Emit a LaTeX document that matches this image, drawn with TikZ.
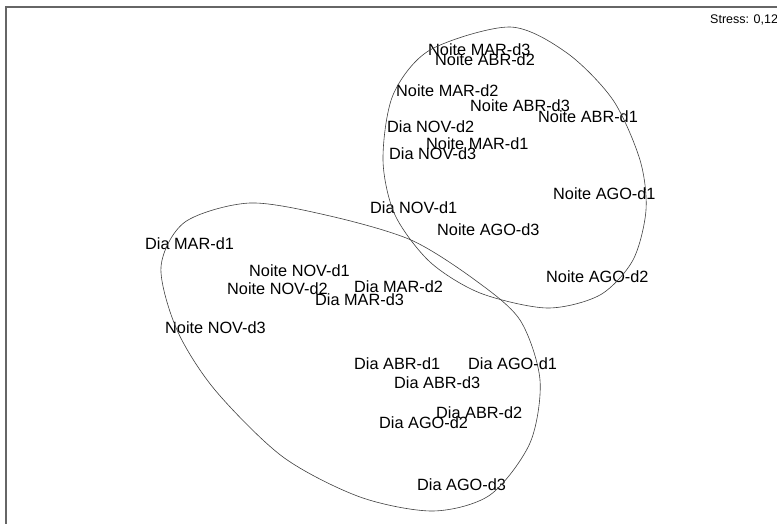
\documentclass[tikz,border=0pt]{standalone}
\usepackage{fontspec}
\setmainfont{Liberation Sans}
\usepackage{tikz}

\begin{document}
\begin{tikzpicture}[x=1pt,y=-1pt,
        lbl/.style = {anchor=west, inner sep=0pt, font=\fontsize{16.3}{19}\selectfont},
        hull/.style = {draw=black!75, line width=0.6pt},
        frame/.style = {draw=black!60, line width=1.6pt},
        ]
        \useasboundingbox (0,0) rectangle (777,524);
        \draw[frame] (6,524) -- (6,7) -- (777,7);
        \node[anchor=west, inner sep=0pt, font=\fontsize{12.5}{14}\selectfont] (stress) at (710,20) {Stress: 0,12};
        % noite
        \node[lbl] (nmar3) at (428,50) {Noite MAR-d3};
        \node[lbl] (nabr2) at (435,60) {Noite ABR-d2};
        \node[lbl] (nmar2) at (396,91) {Noite MAR-d2};
        \node[lbl] (nabr3) at (470,106) {Noite ABR-d3};
        \node[lbl] (nabr1) at (538,117) {Noite ABR-d1};
        \node[lbl] (nmar1) at (426,144) {Noite MAR-d1};
        \node[lbl] (nago1) at (553,194) {Noite AGO-d1};
        \node[lbl] (nago3) at (437,230) {Noite AGO-d3};
        \node[lbl] (nago2) at (546,277) {Noite AGO-d2};
        \node[lbl] (nnov1) at (249,271) {Noite NOV-d1};
        \node[lbl] (nnov2) at (227,289) {Noite NOV-d2};
        \node[lbl] (nnov3) at (165,328) {Noite NOV-d3};
        % dia
        \node[lbl] (dnov2) at (387,127) {Dia NOV-d2};
        \node[lbl] (dnov3) at (389,154) {Dia NOV-d3};
        \node[lbl] (dnov1) at (370,208) {Dia NOV-d1};
        \node[lbl] (dmar1) at (145,244) {Dia MAR-d1};
        \node[lbl] (dmar2) at (354,287) {Dia MAR-d2};
        \node[lbl] (dmar3) at (315,300) {Dia MAR-d3};
        \node[lbl] (dabr1) at (354,364) {Dia ABR-d1};
        \node[lbl] (dago1) at (468,364) {Dia AGO-d1};
        \node[lbl] (dabr3) at (394,383) {Dia ABR-d3};
        \node[lbl] (dabr2) at (436,413) {Dia ABR-d2};
        \node[lbl] (dago2) at (379,423) {Dia AGO-d2};
        \node[lbl] (dago3) at (417,485) {Dia AGO-d3};
        % groups
        \draw[hull] plot[smooth cycle] coordinates {(510,27) (567,53) (613,100) (640,160) (646,210) (633,260) (600,295) (547,308) (480,293) (430,262) (395,215) (383,160) (393,95) (430,50)};
        \draw[hull] plot[smooth cycle] coordinates {(250,203) (330,216) (411,240) (475,280) (520,320) (540,380) (530,443) (490,495) (433,511) (360,497) (283,457) (215,390) (177,330) (161,267) (185,222)};
    \end{tikzpicture}
\end{document}
